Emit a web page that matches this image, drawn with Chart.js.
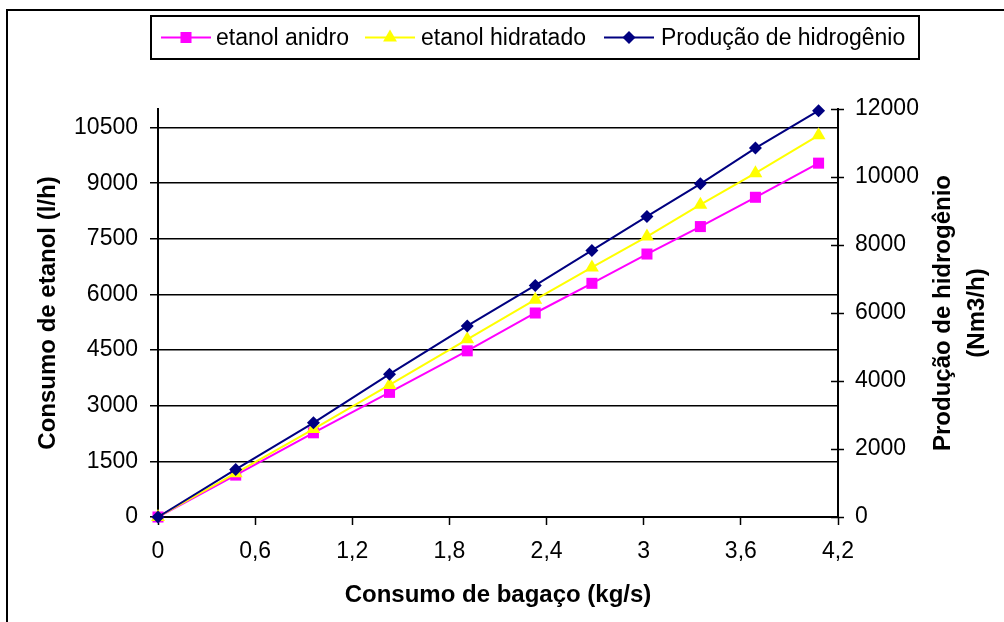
<!DOCTYPE html>
<html><head><meta charset="utf-8">
<script src="https://cdn.jsdelivr.net/npm/chart.js@4.4.0/dist/chart.umd.min.js"></script>
<style>html,body{margin:0;padding:0;background:#fff;}#wrap{width:1004px;height:622px;position:relative;}</style>
</head><body><div id="wrap"><canvas id="c" width="1004" height="622"></canvas></div>
<script>
// ---- data ----
const bagaco = [0, 0.48, 0.96, 1.43, 1.91, 2.33, 2.68, 3.02, 3.35, 3.69, 4.08];
const etanolAnidro = [0, 1130, 2270, 3360, 4480, 5500, 6300, 7090, 7830, 8620, 9540];
const etanolHidratado = [0, 1180, 2370, 3560, 4790, 5860, 6730, 7560, 8420, 9270, 10290];
const producaoHidrogenio = [0, 1400, 2770, 4200, 5620, 6810, 7840, 8840, 9800, 10850, 11950];
const seriesNames = ['etanol anidro', 'etanol hidratado', 'Produção de hidrogênio'];
const xTicks = [0, 0.6, 1.2, 1.8, 2.4, 3, 3.6, 4.2];
const xTickLabels = ['0', '0,6', '1,2', '1,8', '2,4', '3', '3,6', '4,2'];
const yLeftTicks = [0, 1500, 3000, 4500, 6000, 7500, 9000, 10500];
const yRightTicks = [0, 2000, 4000, 6000, 8000, 10000, 12000];
const xTitle = 'Consumo de bagaço (kg/s)';
const yLeftTitle = 'Consumo de etanol (l/h)';
const yRightTitle = ['Produção de hidrogênio', '(Nm3/h)'];

const FONT = "'Liberation Sans', Arial, sans-serif";
const colors = ['#FF00FF', '#FFFF00', '#000080'];
const styles = ['rect', 'triangle', 'rectRot'];
const radii = [7.8, 8, 6.5];

function pts(ys) { return bagaco.map((x, i) => ({x: x, y: ys[i]})); }

const bgPlugin = {
  id: 'bg',
  beforeDraw(chart) {
    const ctx = chart.ctx;
    ctx.save(); ctx.fillStyle = '#fff'; ctx.fillRect(0, 0, chart.width, chart.height); ctx.restore();
  },
  afterDraw(chart) {
    const ctx = chart.ctx;
    ctx.save();
    // outer frame
    ctx.strokeStyle = '#000'; ctx.lineWidth = 2;
    ctx.strokeRect(7, 10, 1010, 630);
    // right axis inner tick halves
    const y2 = chart.scales.y2;
    ctx.lineWidth = 1.5;
    ctx.beginPath();
    y2.ticks.forEach((t, i) => {
      const py = Math.round(y2.getPixelForTick(i)) + 0.5;
      ctx.moveTo(y2.left - 7, py); ctx.lineTo(y2.left, py);
    });
    ctx.stroke();
    // right title
    ctx.fillStyle = '#000';
    ctx.font = "bold 24px " + FONT;
    ctx.textAlign = 'center'; ctx.textBaseline = 'middle';
    const cy = (chart.chartArea.top + chart.chartArea.bottom) / 2;
    [943, 977].forEach((x, i) => {
      ctx.save(); ctx.translate(x, cy); ctx.rotate(-Math.PI / 2);
      ctx.fillText(yRightTitle[i], 0, 0); ctx.restore();
    });
    // legend
    ctx.lineWidth = 2; ctx.strokeStyle = '#000';
    ctx.strokeRect(151, 16, 768, 43);
    const ly = 37.5;
    const items = [[161, 216], [365, 421], [604, 661]];
    ctx.font = "23px " + FONT; ctx.textAlign = 'left';
    items.forEach((it, i) => {
      ctx.strokeStyle = colors[i]; ctx.lineWidth = 2;
      ctx.beginPath(); ctx.moveTo(it[0], ly); ctx.lineTo(it[0] + 50, ly); ctx.stroke();
      ctx.fillStyle = colors[i];
      Chart.helpers.drawPoint(ctx, {pointStyle: styles[i], radius: radii[i], borderWidth: 0}, it[0] + 25, ly);
      ctx.fillStyle = '#000';
      ctx.fillText(seriesNames[i], it[1], ly + 1);
    });
    ctx.restore();
  }
};

const ds = [etanolAnidro, etanolHidratado, producaoHidrogenio].map((d, i) => ({
  label: seriesNames[i],
  data: pts(d),
  borderColor: colors[i],
  backgroundColor: colors[i],
  borderWidth: 2,
  pointStyle: styles[i],
  pointRadius: radii[i],
  pointHoverRadius: radii[i],
  pointBorderWidth: 0,
  pointBackgroundColor: colors[i],
  tension: 0,
  clip: false,
  yAxisID: i === 2 ? 'y2' : 'y',
  order: 3 - i
}));

new Chart(document.getElementById('c'), {
  type: 'line',
  data: {datasets: ds},
  plugins: [bgPlugin],
  options: {
    responsive: false, animation: false, devicePixelRatio: 1,
    layout: {padding: {top: 109, left: 0, right: 0, bottom: 0}},
    plugins: {legend: {display: false}, tooltip: {enabled: false}},
    scales: {
      x: {
        type: 'linear', min: 0, max: 4.2,
        afterBuildTicks: s => { s.ticks = xTicks.map(v => ({value: v})); },
        afterFit: s => { s.height = 105; },
        ticks: {color: '#000', font: {family: FONT, size: 23}, padding: 13, maxRotation: 0,
          callback: v => xTickLabels[xTicks.indexOf(v)]},
        grid: {display: true, drawOnChartArea: false, drawTicks: true, tickLength: 8, tickColor: '#000', tickWidth: 1.5},
        border: {display: true, color: '#000', width: 2},
        title: {display: true, text: xTitle, color: '#000', font: {family: FONT, size: 24, weight: 'bold'}, padding: {top: 0, bottom: 12}}
      },
      y: {
        type: 'linear', position: 'left', min: 0, max: 11000,
        afterBuildTicks: s => { s.ticks = yLeftTicks.map(v => ({value: v})); },
        afterFit: s => { s.width = 158; },
        ticks: {color: '#000', font: {family: FONT, size: 23}, padding: 12, callback: v => String(v)},
        grid: {display: true, color: '#000', lineWidth: 1.5, drawTicks: true, tickLength: 8, tickColor: '#000', tickWidth: 1.5},
        border: {display: true, color: '#000', width: 2},
        title: {display: true, text: yLeftTitle, color: '#000', font: {family: FONT, size: 24, weight: 'bold'}, padding: {top: 34, bottom: 0}}
      },
      y2: {
        type: 'linear', position: 'right', min: 0, max: 12000,
        afterBuildTicks: s => { s.ticks = yRightTicks.map(v => ({value: v})); },
        afterFit: s => { s.width = 166; },
        ticks: {color: '#000', font: {family: FONT, size: 23}, padding: 11, callback: v => String(v)},
        grid: {display: true, drawOnChartArea: false, drawTicks: true, tickLength: 6, tickColor: '#000', tickWidth: 1.5},
        border: {display: true, color: '#000', width: 2}
      }
    }
  }
});
</script></body></html>
